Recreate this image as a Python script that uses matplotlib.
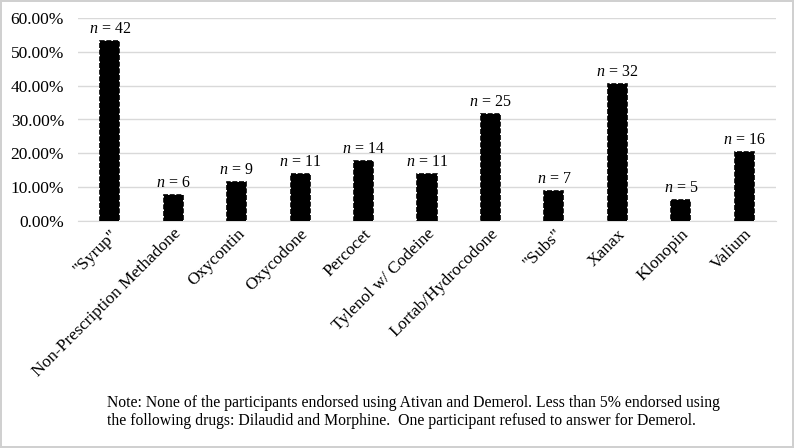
import matplotlib.pyplot as plt
from matplotlib.ticker import PercentFormatter

plt.rcParams['font.family'] = ['Liberation Serif', 'DejaVu Serif']
plt.rcParams['mathtext.fontset'] = 'custom'
plt.rcParams['mathtext.it'] = 'Liberation Serif:italic'
plt.rcParams['mathtext.rm'] = 'Liberation Serif'

drugs = ['"Syrup"', 'Non-Prescription Methadone', 'Oxycontin', 'Oxycodone', 'Percocet',
         'Tylenol w/ Codeine', 'Lortab/Hydrocodone', '"Subs"', 'Xanax', 'Klonopin', 'Valium']
counts = [42, 6, 9, 11, 14, 11, 25, 7, 32, 5, 16]
percents = [53.16, 7.59, 11.39, 13.92, 17.72, 13.92, 31.65, 8.86, 40.51, 6.33, 20.25]

note = ("Note: None of the participants endorsed using Ativan and Demerol. Less than 5% endorsed using\n"
        "the following drugs: Dilaudid and Morphine.  One participant refused to answer for Demerol.")

fig = plt.figure(figsize=(7.94, 4.48), dpi=100)
fig.patch.set_edgecolor('#d0d0d0')
fig.patch.set_linewidth(1.5)
ax = fig.add_axes([78/794, 1 - 221/448, (776 - 78)/794, (221 - 18)/448])

x = range(len(drugs))
bars = ax.bar(x, percents, width=0.3, color='black', edgecolor='black',
              linewidth=1.2, linestyle=(0, (3, 1)), zorder=3)
for b, n in zip(bars, counts):
    ax.text(b.get_x() + b.get_width()/2, b.get_height() + 1.2, f'$n$ = {n}',
            ha='center', va='bottom', fontsize=11.5)

ax.set_xlim(-0.5, len(drugs) - 0.5)
ax.set_ylim(0, 60)
ax.set_yticks(range(0, 61, 10))
ax.yaxis.set_major_formatter(PercentFormatter(decimals=2))
ax.grid(axis='y', color='#d9d9d9', linewidth=1, zorder=0)
for s in ['top', 'right', 'left']:
    ax.spines[s].set_visible(False)
ax.spines['bottom'].set_color('#d9d9d9')
ax.tick_params(length=0, labelsize=12.5)
ax.tick_params(axis='y', pad=10)
ax.set_xticks(list(x))
ax.set_xticklabels(drugs, rotation=45, ha='right', rotation_mode='anchor', fontsize=12.5)

fig.text(107/794, 1 - 412/448, note, fontsize=11.3, va='center', ha='left', linespacing=1.15)

fig.savefig('out.png', dpi=100)
